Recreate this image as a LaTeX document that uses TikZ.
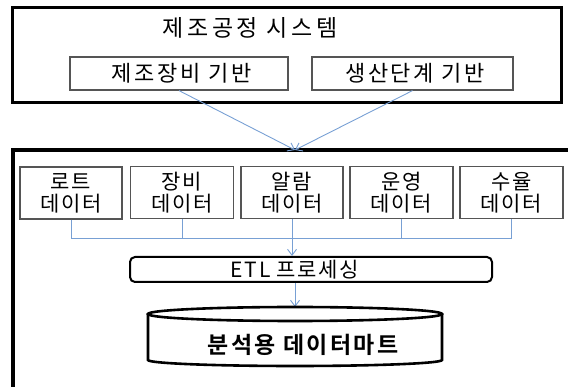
\documentclass[tikz,border=0pt]{standalone}
\usepackage{fontspec}
\usetikzlibrary{arrows.meta}
\newfontfamily\krtitle{Noto Sans CJK KR}[LetterSpace=16]
\newfontfamily\krsub{Noto Sans CJK KR}[LetterSpace=12]
\newfontfamily\krdata{Noto Sans CJK KR}[LetterSpace=8]
\newfontfamily\kretl{Noto Sans CJK KR}[LetterSpace=8]
\newfontfamily\krspb{Noto Sans CJK KR Bold}[LetterSpace=10]
\definecolor{conn}{RGB}{120,160,212}
\definecolor{boxgray}{RGB}{85,85,85}
\tikzset{
  outerbox/.style={draw=black, line width=3pt, inner sep=0pt},
  subbox/.style={draw=boxgray, line width=1.2pt, inner sep=0pt, minimum height=33pt,
    font=\krsub\fontsize{22}{25}\selectfont},
  databox/.style={draw=boxgray, line width=1.1pt, inner sep=0pt, minimum height=52pt,
    align=center, font=\krdata\fontsize{21}{22}\selectfont},
  conline/.style={draw=conn, line width=0.9pt},
  conarrow/.style={conline, -{Straight Barb[length=6pt,width=9pt,line width=0.9pt]}},
  etlbox/.style={draw=black, line width=2pt, rounded corners=5pt, inner sep=0pt, minimum height=25pt},
  dbline/.style={draw=black, line width=2.6pt}
}
\begin{document}
\begin{tikzpicture}[x=1pt,y=-1pt]
\useasboundingbox (0,0) rectangle (568,387);
% top system box
\node[outerbox, minimum width=549pt, minimum height=95pt] (sys) at (286.5,55.5) {};
\node[font=\krtitle\fontsize{23}{26}\selectfont] (title) at (250,28) {제조공정 시스템};
\node[subbox, minimum width=218pt] (s1) at (179,73.5) {\hspace*{5pt}제조장비 기반};
\node[subbox, minimum width=201pt] (s2) at (412.5,73.5) {\hspace*{5pt}생산단계 기반};
% bottom box
\node[outerbox, line width=3.5pt, minimum width=607pt, minimum height=250pt] (bot) at (316.5,275) {};
\coordinate (m) at (295,150);
\draw[conarrow] (s1.south) -- (m);
\draw[conarrow] (s2.south) -- (m);
% data boxes
\node[databox, minimum width=102pt] (d1) at (71,193) {로트\\데이터};
\node[databox, minimum width=103pt] (d2) at (182,192.5) {장비\\데이터};
\node[databox, minimum width=102pt] (d3) at (292,192.5) {알람\\데이터};
\node[databox, minimum width=103pt] (d4) at (401.5,192.5) {운영\\데이터};
\node[databox, minimum width=103pt] (d5) at (511.5,192.5) {수율\\데이터};
\coordinate (hl) at (71,238);
\coordinate (hr) at (d5.south |- hl);
\draw[conline] (d1.south) |- (hr) -- (d5.south);
\draw[conline] (d2.south) -- (d2.south |- hl);
\draw[conline] (d4.south) -- (d4.south |- hl);
% ETL
\node[etlbox, minimum width=362pt,
  label={[font=\kretl\fontsize{21}{23}\selectfont, xshift=-16pt]center:ETL 프로세싱}] (etl) at (311,269.5) {};
\draw[conarrow] (d3.south) -- (d3.south |- etl.north);
% data mart cylinder
\coordinate (dbtop) at (295,307);
\draw[conarrow] (etl.south -| dbtop) -- (dbtop);
\draw[dbline] (148,314) -- (148,360) arc[start angle=180, end angle=0, x radius=147, y radius=6] -- (442,314);
\draw[dbline] (295,314) ellipse[x radius=147, y radius=7];
\node[font=\krspb\fontsize{23}{26}\selectfont] (db) at (303,345) {분석용 데이터마트};
\end{tikzpicture}
\end{document}
